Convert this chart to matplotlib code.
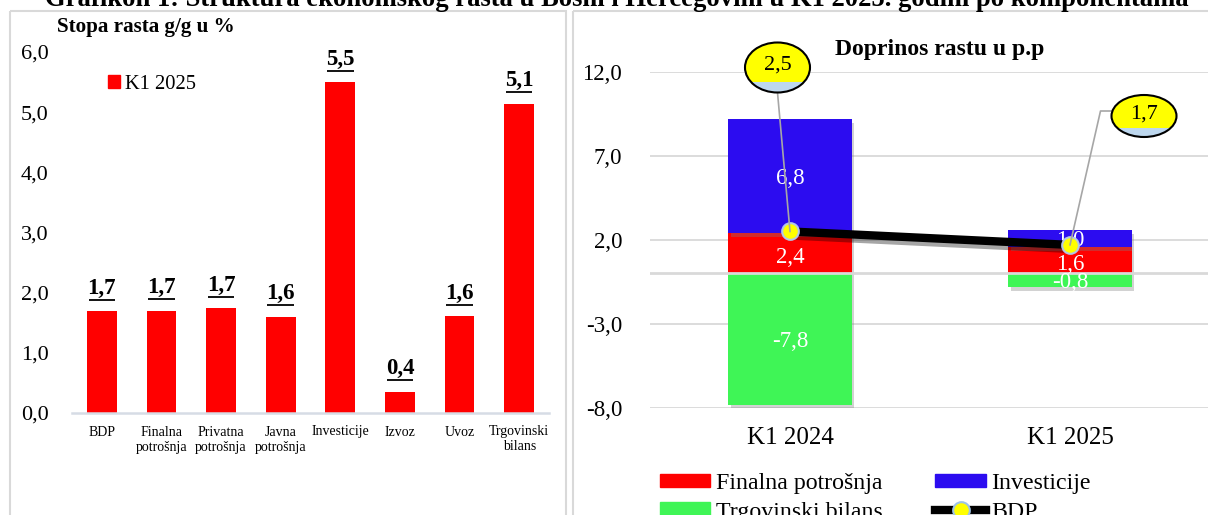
import matplotlib
matplotlib.use('Agg')
import matplotlib.pyplot as plt
from matplotlib.patches import Rectangle, Ellipse, Patch
from matplotlib.lines import Line2D
import matplotlib.patheffects as pe

plt.rcParams['font.family'] = ['Liberation Serif', 'DejaVu Serif']

# ---------------- data ----------------
title = "Grafikon 1: Struktura ekonomskog rasta u Bosni i Hercegovini u K1 2025. godini po komponentama"

left_title = "Stopa rasta g/g u %"
left_series = "K1 2025"
left_categories = ["BDP", "Finalna\npotrošnja", "Privatna\npotrošnja", "Javna\npotrošnja",
                   "Investicije", "Izvoz", "Uvoz", "Trgovinski\nbilans"]
left_values = [1.69, 1.70, 1.74, 1.60, 5.50, 0.35, 1.61, 5.14]
left_labels = ["1,7", "1,7", "1,7", "1,6", "5,5", "0,4", "1,6", "5,1"]
left_yticks = [0, 1, 2, 3, 4, 5, 6]

right_title = "Doprinos rastu u p.p"
periods = ["K1 2024", "K1 2025"]
finalna = [2.4, 1.6]
investicije = [6.8, 1.0]
trgovinski = [-7.8, -0.8]
bdp = [2.5, 1.7]
right_yticks = [-8, -3, 2, 7, 12]
series_names = ["Finalna potrošnja", "Investicije", "Trgovinski bilans", "BDP"]

RED = '#FF0000'
BLUE = '#2C0CF0'
GREEN = '#3FF556'
GRID = '#D9D9D9'

def fmt(v):
    return f"{v:.1f}".replace('.', ',')

W, H = 1208, 515
fig = plt.figure(figsize=(W / 100, H / 100), dpi=100)

# background overlay (panel borders)
bg = fig.add_axes([0, 0, 1, 1], zorder=-5)
bg.set_xlim(0, W); bg.set_ylim(H, 0); bg.axis('off')
bg.add_patch(Rectangle((10, 11), 556, 520, fill=False, ec=GRID, lw=1.5))
bg.add_patch(Rectangle((573, 11), 650, 520, fill=False, ec=GRID, lw=1.5))

fig.text(617 / W, 1 - 6 / H, title, ha='center', va='baseline', fontsize=19.2, fontweight='bold')

# ---------------- left chart ----------------
ax1 = fig.add_axes([72 / W, 1 - 413 / H, (549 - 72) / W, (413 - 52) / H])
x1 = list(range(len(left_categories)))
bars = ax1.bar(x1, left_values, width=0.5, color=RED, label=left_series, zorder=2)
ax1.set_xlim(-0.5, len(left_categories) - 0.5)
ax1.set_ylim(0, 6)
ax1.set_yticks(left_yticks)
ax1.set_yticklabels([fmt(v) for v in left_yticks], fontsize=16)
ax1.set_xticks(x1)
ax1.set_xticklabels(left_categories, fontsize=10, linespacing=1.2)
ax1.tick_params(axis='both', length=0)
ax1.tick_params(axis='y', pad=17)
ax1.tick_params(axis='x', pad=9)
for s in ['top', 'right', 'left']:
    ax1.spines[s].set_visible(False)
ax1.spines['bottom'].set_color('#D6DCE5')
ax1.spines['bottom'].set_linewidth(1.8)
ax1.set_facecolor('none')

label_texts = []
for xi, v, lab in zip(x1, left_values, left_labels):
    t = ax1.annotate(lab, (xi, v), xytext=(0, 9), textcoords='offset points',
                     ha='center', va='bottom', fontsize=16.5, fontweight='bold')
    label_texts.append(t)

fig.text(57 / W, 1 - 27 / H, left_title, ha='left', va='center', fontsize=15.2, fontweight='bold')
ax1.legend(handles=[Patch(color=RED)], labels=[left_series], loc='center left',
           bbox_to_anchor=(108 / W, 1 - 84 / H), bbox_transform=fig.transFigure,
           frameon=False, fontsize=14.8, handlelength=0.6, handleheight=0.6,
           handletextpad=0.25, borderpad=0, borderaxespad=0)

# ---------------- right chart ----------------
ax2 = fig.add_axes([650 / W, 1 - 408 / H, 560 / W, (408 - 71.7) / H])
x2 = list(range(len(periods)))
shadow = [pe.SimplePatchShadow(offset=(2, -3), shadow_rgbFace='#7f7f7f', alpha=0.35), pe.Normal()]
bw = 0.44
b1 = ax2.bar(x2, finalna, width=bw, color=RED, zorder=2, path_effects=shadow)
b2 = ax2.bar(x2, investicije, width=bw, bottom=finalna, color=BLUE, zorder=2, path_effects=shadow)
b3 = ax2.bar(x2, trgovinski, width=bw, color=GREEN, zorder=2, path_effects=shadow)
ax2.axhline(0, color=GRID, lw=2, zorder=3)
ax2.set_xlim(-0.5, len(periods) - 0.5)
ax2.set_ylim(-8, 12)
ax2.set_yticks(right_yticks)
ax2.set_yticklabels([fmt(v) for v in right_yticks], fontsize=16.5)
ax2.grid(axis='y', color=GRID, lw=1.3, zorder=0)
ax2.set_axisbelow(True)
ax2.set_xticks(x2)
ax2.set_xticklabels(periods, fontsize=18)
ax2.tick_params(axis='both', length=0)
ax2.tick_params(axis='y', pad=20)
ax2.tick_params(axis='x', pad=14)
for s in ax2.spines.values():
    s.set_visible(False)
ax2.set_facecolor('none')

for xi in x2:
    ax2.text(xi, finalna[xi] / 2 - 0.25, fmt(finalna[xi]), ha='center', va='center', color='white', fontsize=16.5, zorder=4)
    ax2.text(xi, finalna[xi] + investicije[xi] / 2 - 0.15, fmt(investicije[xi]), ha='center', va='center',
             color='white', fontsize=16.5, zorder=4)
    ax2.text(xi, trgovinski[xi] / 2 - 0.15, fmt(trgovinski[xi]), ha='center', va='center', color='white',
             fontsize=16.5, zorder=4)

ax2.plot(x2, bdp, color='black', lw=6, solid_capstyle='butt', zorder=5,
         path_effects=[pe.SimpleLineShadow(offset=(2, -3), alpha=0.35), pe.Normal()])
ax2.plot(x2, bdp, ls='none', marker='o', ms=12, mfc='#FFFF00', mec='#B4C7E7', mew=1.5, zorder=6)

fig.text(940 / W, 1 - 50 / H, right_title, ha='center', va='center', fontsize=17, fontweight='bold')

handles = [Patch(color=RED), Patch(color=GREEN), Patch(color=BLUE),
           Line2D([0], [0], color='black', lw=6, marker='o', ms=12, mfc='#FFFF00', mec='#9DC3E6', mew=1.5)]
labels = [series_names[0], series_names[2], series_names[1], series_names[3]]
fig.legend(handles, labels, ncol=2, loc='upper left', bbox_to_anchor=(660 / W, 1 - 473 / H),
           frameon=False, fontsize=17.2, handlelength=2.1, handleheight=0.5, handletextpad=0.25,
           labelspacing=0.32, columnspacing=2.2, borderpad=0, borderaxespad=0)

# ---------------- top overlay: callouts & underlines ----------------
ov = fig.add_axes([0, 0, 1, 1], zorder=20)
ov.set_xlim(0, W); ov.set_ylim(H, 0); ov.axis('off')

def to_px(ax, x, y):
    dx, dy = ax.transData.transform((x, y))
    return dx, H - dy

callouts = [((777.5, 67.5), 65, 50), ((1144, 116), 65, 42)]
for i, ((cx, cy), ew, eh) in enumerate(callouts):
    px, py = to_px(ax2, x2[i], bdp[i])
    if i == 0:
        ov.plot([cx, px], [cy + eh / 2, py], color='#A6A6A6', lw=1.2, zorder=1)
    else:
        ov.plot([cx - ew / 2, cx - ew / 2 - 11, px], [cy - 5, cy - 5, py], color='#A6A6A6', lw=1.2, zorder=1)
    e = Ellipse((cx, cy), ew, eh, fc='#FFFF00', ec='none', zorder=2)
    ov.add_patch(e)
    band = Rectangle((cx - ew / 2, cy + eh * 0.28), ew, eh, fc='#BDD7EE', ec='none', zorder=3)
    ov.add_patch(band)
    band.set_clip_path(e)
    ov.add_patch(Ellipse((cx, cy), ew, eh, fc='none', ec='black', lw=1.5, zorder=4))
    ov.text(cx, cy - 2, fmt(bdp[i]), ha='center', va='center', fontsize=16, zorder=5)

fig.canvas.draw()
r = fig.canvas.get_renderer()
for t in label_texts:
    bb = t.get_window_extent(r)
    yb = H - bb.y0 + 1
    ov.plot([bb.x0 + 1, bb.x1 - 1], [yb, yb], color='black', lw=1.3, solid_capstyle='butt')

fig.savefig('out.png', dpi=100)
